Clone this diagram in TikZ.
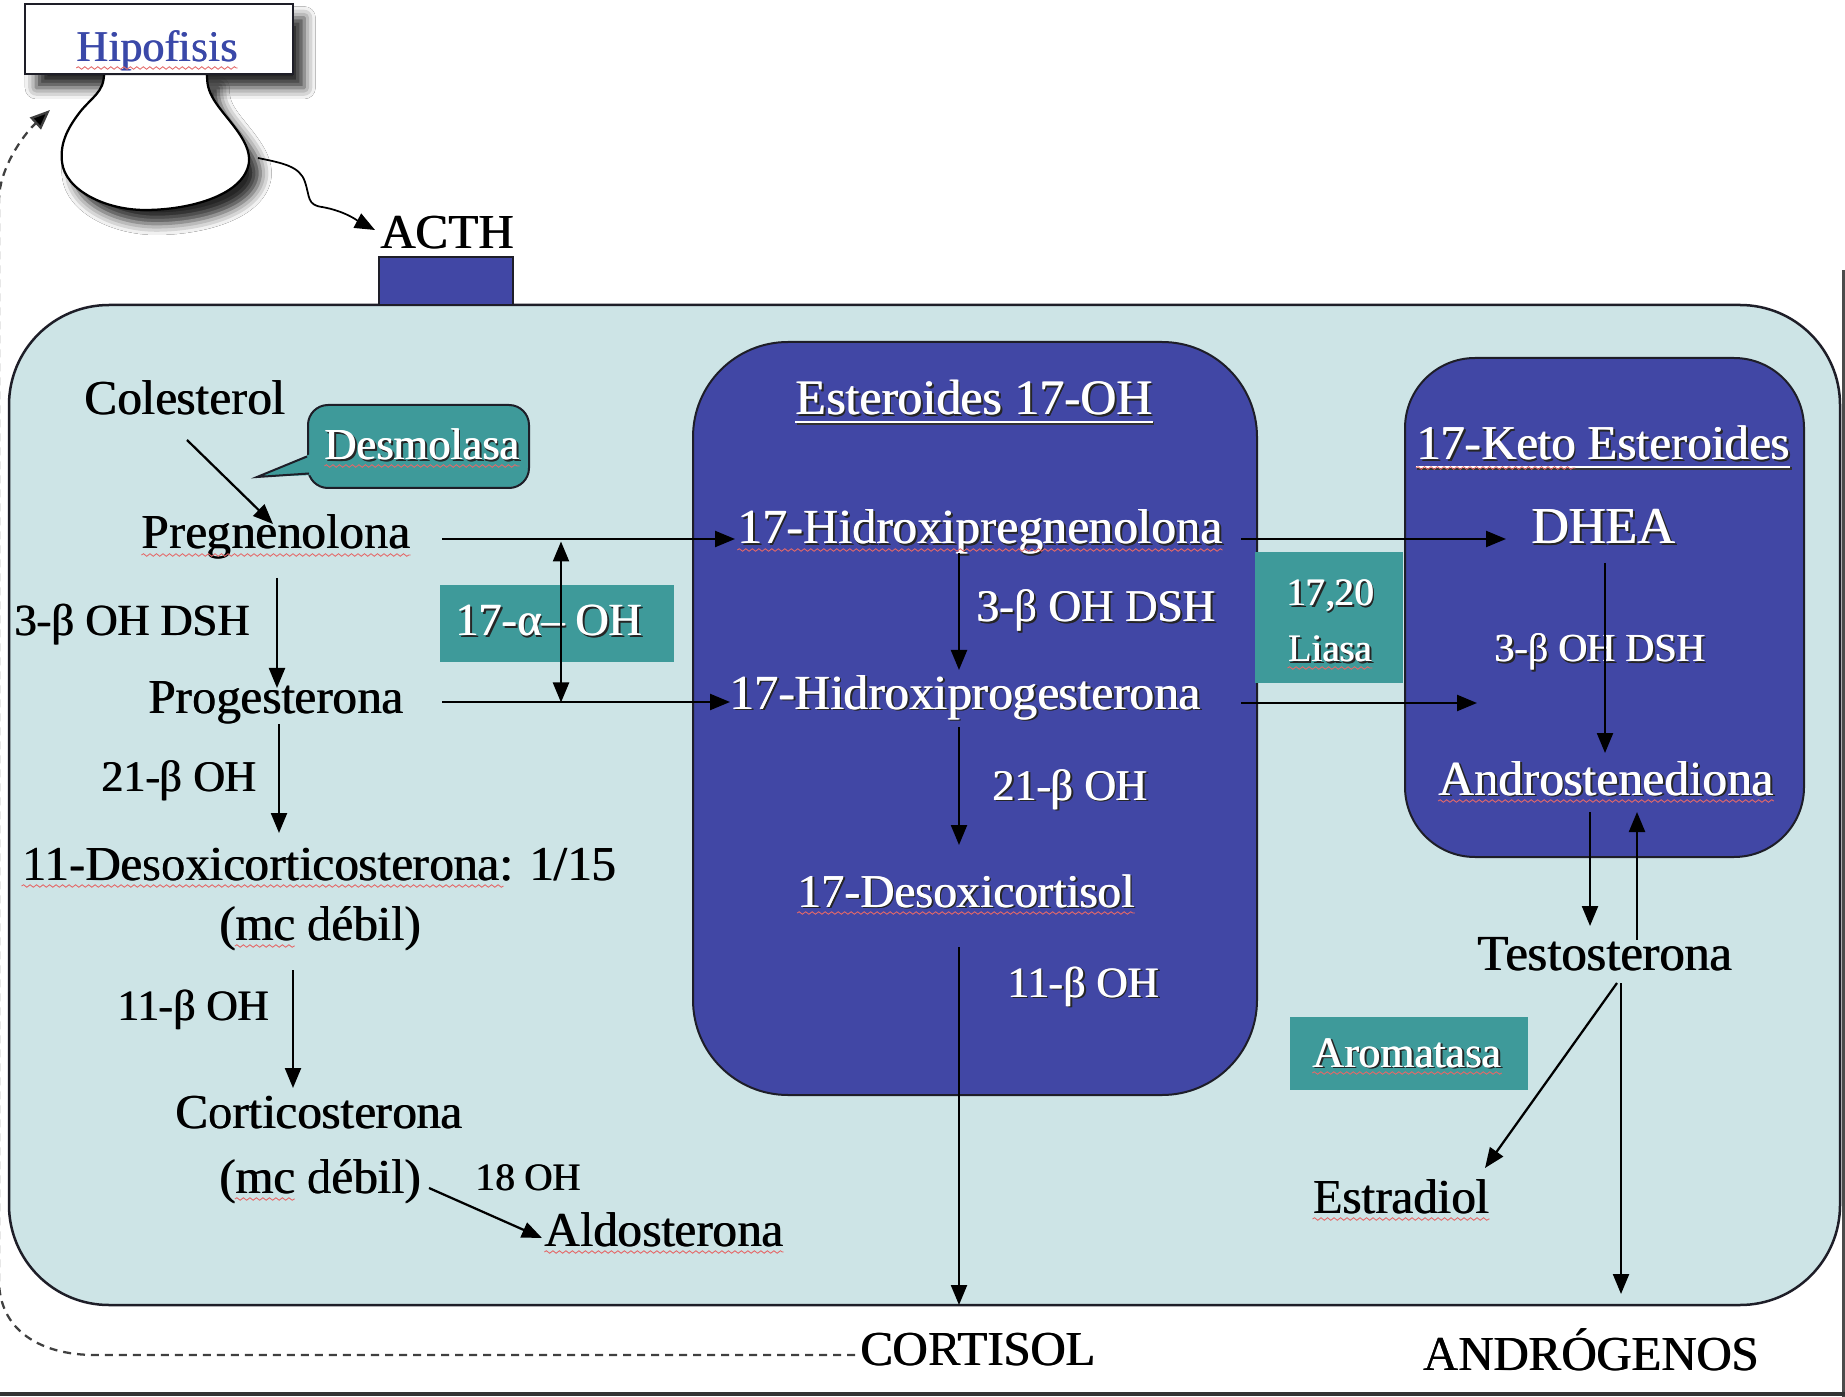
\documentclass[tikz,border=0pt]{standalone}
\usepackage{fontspec}
\setmainfont{Liberation Serif}
\usetikzlibrary{arrows.meta,calc,shadows,shadows.blur,decorations.pathmorphing}

\definecolor{cellfill}{RGB}{205,228,230}
\definecolor{boxblue}{RGB}{65,71,165}
\definecolor{tealc}{RGB}{62,154,154}
\definecolor{hipoblue}{RGB}{58,72,168}
\definecolor{outl}{RGB}{30,30,40}
\definecolor{squigred}{RGB}{228,105,105}

% heavier lettering: the text set twice with a hair of offset
\newcommand\bt[1]{\makebox[0pt][l]{\kern0.35pt#1}#1}
% white lettering with a small dark drop shadow
\newcommand\wt[1]{\makebox[0pt][l]{\kern0.7pt\raisebox{-0.6pt}{\color{black!85}\bt{#1}}}\bt{#1}}

\begin{document}
\begin{tikzpicture}[
  x=0.4pt, y=-0.4pt,
  txt/.style={inner sep=0pt, anchor=base, font=\fontsize{#1}{#1}\selectfont},
  txt/.default=19.5,
  wtxt/.style={txt=#1, text=white},
  wtxt/.default=19.5,
  tip/.tip={Triangle[length=8pt,width=6.4pt,fill=black]},
  arr/.style={line width=0.9pt, -tip},
  arrdbl/.style={line width=0.9pt, tip-tip},
  squig/.style={draw=squigred, line width=0.35pt, decorate,
                decoration={snake, segment length=2.6pt, amplitude=0.5pt}},
  tealbox/.style={fill=tealc, draw=none, inner sep=0pt},
  hipobox/.style={fill=white, draw=outl, line width=0.9pt, inner sep=0pt,
                  minimum width=107.2pt, minimum height=28pt},
  softshadow/.style={blur shadow={shadow xshift=4.5pt, shadow yshift=-5.5pt,
                  shadow blur radius=4.5pt, shadow opacity=85}},
]
\useasboundingbox (0,0) rectangle (1845,1397);
\fill[white] (0,0) rectangle (1845,1397);

% frame of the slide
\draw[line width=1.2pt, black!70] (1843,270) -- (1843,1397);
\draw[line width=1.5pt, black!80] (0,1394) -- (1845,1394);

% pituitary: label box and gland
\node[hipobox, softshadow] (hipo) at (159,39) {};
\draw[fill=white, draw=black, line width=0.9pt, softshadow]
  (104,74) .. controls (104,92) and (92,97) .. (80,112)
  .. controls (66,130) and (60,145) .. (62,162)
  .. controls (65,190) and (105,210) .. (145,210)
  .. controls (190,210) and (245,195) .. (249,162)
  .. controls (251,140) and (225,118) .. (214,100)
  .. controls (208,90) and (207,84) .. (207,74) -- cycle;
\node[hipobox] (hipofront) at (hipo) {};
\node[txt=17.5, text=hipoblue] (hipotxt) at (157,62) {\bt{Hipofisis}};
\coordinate (bulbout) at (258,158);
\coordinate (fbtip) at (50,110);

% adrenal cell
\draw[fill=cellfill, draw=outl, line width=1pt, rounded corners=40pt] (9,305) rectangle (1840,1305);
\draw[fill=boxblue, draw=outl, line width=0.8pt] (379,257) rectangle (513,305);

% pathway compartments
\draw[fill=boxblue, draw=outl, line width=0.8pt, rounded corners=38pt] (693,342) rectangle (1257,1095);
\draw[fill=boxblue, draw=outl, line width=0.8pt, rounded corners=28pt] (1405,358) rectangle (1804,857);

% enzyme tags
\node[tealbox, minimum width=59.2pt, minimum height=52.4pt] (liasabox) at (1329,617.5) {};
\node[tealbox, minimum width=93.6pt, minimum height=30.8pt] (alphabox) at (557,623.5) {};
\node[tealbox, minimum width=95.2pt, minimum height=29.2pt] (arombox) at (1409,1053.5) {};
\node[fill=tealc, draw=outl, line width=0.8pt, rounded corners=8pt, inner sep=0pt,
      minimum width=88.4pt, minimum height=33.2pt] (desmbox) at (418.5,446.5) {};
\fill[tealc] (313,453) -- (257,477) -- (313,475) -- cycle;
\draw[outl, line width=0.8pt] ($(desmbox.west)+(0,10)$) -- (257,477) -- ($(desmbox.west)+(2,27)$);

% left column
\node[txt] (chol) at (185,415) {\bt{Colesterol}};
\node[txt] (preg) at (276,549) {\bt{Pregnenolona}};
\node[txt=17.8] (l3b) at (132,636) {\bt{3-β OH DSH}};
\node[txt] (prog) at (276,714) {\bt{Progesterona}};
\node[txt=17.5] (l21) at (179,791) {\bt{21-β OH}};
\node[txt] (doc) at (319,880) {\bt{11-Desoxicorticosterona: 1/15}};
\node[txt] (mc1) at (320,940) {\bt{(mc débil)}};
\node[txt=17.3] (l11) at (193,1020) {\bt{11-β OH}};
\node[txt] (cort) at (319,1128) {\bt{Corticosterona}};
\node[txt] (mc2) at (320,1193) {\bt{(mc débil)}};
\node[txt=15.5] (l18) at (528,1190) {\bt{18 OH}};
\node[txt] (aldo) at (664,1246) {\bt{Aldosterona}};

\node[txt] (acth) at (447,249) {\bt{ACTH}};
\node[txt] (cortisol) at (978,1365) {\bt{CORTISOL}};
\node[txt] (andr) at (1591,1370) {\bt{ANDRÓGENOS}};
\node[txt=20.2] (testo) at (1605,970) {\bt{Testosterona}};
\node[txt] (estr) at (1401,1213) {\bt{Estradiol}};

% 17-OH steroids
\node[wtxt=19.8] (t17oh) at (974,415) {\wt{Esteroides 17-OH}};
\node[wtxt=19.6] (ohpreg) at (980,544) {\wt{17-Hidroxipregnenolona}};
\node[wtxt=18.1] (w3b) at (1096,622) {\wt{3-β OH DSH}};
\node[wtxt=19.6] (ohprog) at (965,709) {\wt{17-Hidroxiprogesterona}};
\node[wtxt=17.5] (w21) at (1070,800) {\wt{21-β OH}};
\node[wtxt=18.8] (dcort) at (966,907) {\wt{17-Desoxicortisol}};
\node[wtxt=17.3] (w11) at (1083,997) {\wt{11-β OH}};

% 17-keto steroids
\node[wtxt=19.4] (tketo) at (1603,460) {\wt{17-Keto Esteroides}};
\node[wtxt=20.7] (dhea) at (1603,544) {\wt{DHEA}};
\node[wtxt=15.9] (w3b2) at (1600,662) {\wt{3-β OH DSH}};
\node[wtxt=19.6] (andro) at (1606,795) {\wt{Androstenediona}};

% enzyme names
\node[wtxt=15.5] (l1720) at (1330,606) {\wt{17,20}};
\node[wtxt=15.5] (liasa) at (1330,662) {\wt{Liasa}};
\node[wtxt=18.4] (alpha) at (549,636) {\wt{17-α– OH}};
\node[wtxt=17.4] (arom) at (1407,1067) {\wt{Aromatasa}};
\node[wtxt=17.7] (desm) at (422,460) {\wt{Desmolasa}};

% title underlines
\foreach \n in {t17oh, tketo} {
  \draw[line width=0.9pt, black!80] ($(\n.base west)+(1.5,8.5)$) -- ($(\n.base east)+(1.5,8.5)$);
  \draw[line width=0.9pt, white] ($(\n.base west)+(0,7)$) -- ($(\n.base east)+(0,7)$);
}

% spelling marks
\foreach \n in {hipotxt, preg, aldo, estr, desm, ohpreg, liasa, andro, dcort, arom} {
  \draw[squig] ($(\n.base west)+(0,6)$) -- ($(\n.base east)+(0,6)$);
}
\draw[squig] ($(doc.base west)+(0,6)$) -- ($(doc.base west)!0.81!(doc.base east)+(0,6)$);
\foreach \n in {mc1, mc2} {
  \draw[squig] ($(\n.base west)!0.08!(\n.base east)+(0,6)$) -- ($(\n.base west)!0.376!(\n.base east)+(0,6)$);
}
\draw[squig] ($(tketo.base west)+(0,8)$) -- ($(tketo.base west)!0.426!(tketo.base east)+(0,8)$);

% mineralocorticoid branch
\draw[arr] ($(chol.base)+(2,25)$) -- ($(preg.base)+(-3,-25)$);
\draw[arr] ($(preg.base)+(1,29)$) -- ($(prog.base)+(1,-26)$);
\draw[arr] ($(prog.base)+(3,10)$) -- ($(doc.base)+(-40,-47)$);
\draw[arr] ($(mc1.base)+(-27,30)$) -- ($(cort.base)+(-26,-40)$);
\draw[arr] ($(mc2.base)+(109,-5)$) -- ($(aldo.base)+(-122,-8)$);

% 17-hydroxylation
\draw[arr] ($(preg.base)+(166,-10)$) -- ($(ohpreg.base)+(-245,-5)$);
\draw[arr] ($(prog.base)+(166,-12)$) -- ($(ohprog.base)+(-235,-7)$);
\draw[arrdbl] ($(alphabox)+(4,-82)$) -- ($(alphabox)+(4,79)$);

% glucocorticoid branch
\draw[arr] ($(ohpreg.base)+(-21,9)$) -- ($(ohprog.base)+(-6,-39)$);
\draw[arr] ($(ohprog.base)+(-6,18)$) -- ($(dcort.base)+(-7,-62)$);
\draw[arr] ($(dcort.base)+(-7,40)$) -- ($(cortisol.base)+(-19,-60)$);

% androgen branch
\draw[arr] ($(ohpreg.base)+(261,-5)$) -- ($(dhea.base)+(-97,-5)$);
\draw[arr] ($(ohprog.base)+(276,-6)$) -- ($(andro.base)+(-129,-92)$);
\draw[arr] ($(dhea.base)+(2,19)$) -- ($(andro.base)+(-1,-42)$);
\draw[arr] ($(andro.base)+(-16,17)$) -- ($(testo.base)+(-15,-44)$);
\draw[arr] ($(testo.base)+(32,-30)$) -- ($(andro.base)+(31,17)$);
\draw[arr] ($(testo.base)+(12,13)$) -- ($(estr.base)+(84,-45)$);
\draw[arr] ($(testo.base)+(16,13)$) -- ($(andr.base)+(30,-76)$);

% ACTH signal and cortisol feedback
\draw[line width=0.7pt, -tip] (bulbout)
  .. controls (282,163) and (300,166) .. (305,182)
  .. controls (310,197) and (307,205) .. (322,207)
  .. controls (345,211) and (358,221) .. ($(acth.base)+(-72,-19)$);
\draw[line width=0.9pt, black!75, dash pattern=on 3.2pt off 2.4pt, -tip]
  ($(cortisol.base)+(-123,-10)$) -- (95,1355)
  .. controls (40,1355) and (-1,1330) .. (-1,1280) -- (-1,200)
  .. controls (-1,170) and (22,136) .. (fbtip);
\end{tikzpicture}
\end{document}
